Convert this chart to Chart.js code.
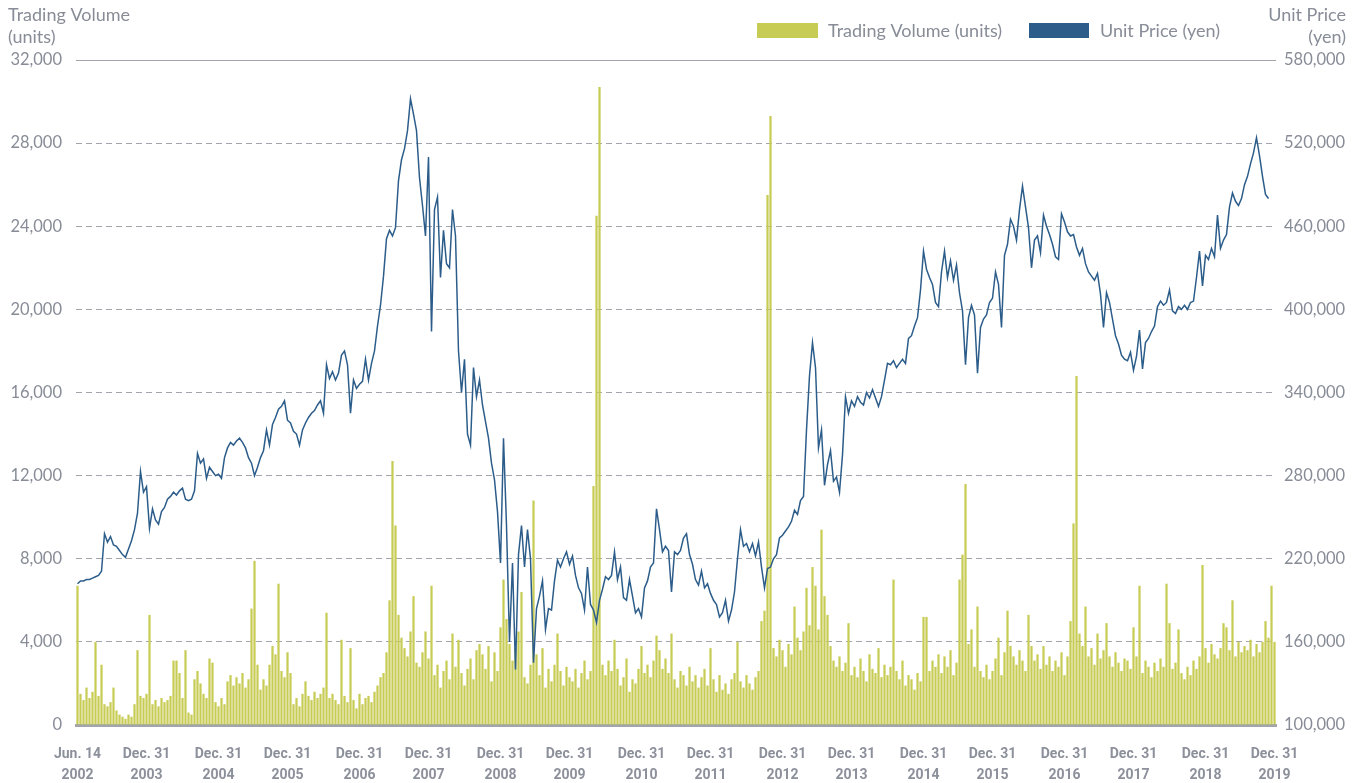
<!DOCTYPE html>
<html>
<head>
<meta charset="utf-8">
<script src="https://cdn.jsdelivr.net/npm/chart.js@4.4.1/dist/chart.umd.min.js"></script>
<style>
  html, body { margin: 0; padding: 0; background: #ffffff; }
  #wrap { width: 1362px; height: 783px; }
</style>
</head>
<body>
<div id="wrap"><canvas id="c" width="1362" height="783"></canvas></div>
<script>
// ---- Data ----
// Unit price in thousand yen, one value per sample (chronological, Jun 2002 -> 2019)
const unitPriceThousandYen = [
202,204,204,205,205,206,207,208,211,238,
232,236,230,229,226,223,221,227,233,241,
253,283,268,272,242,256,248,245,254,257,
263,265,268,266,269,271,263,262,263,269,
296,289,292,278,286,283,280,281,278,293,
300,304,302,305,307,304,300,293,289,280,
286,293,298,313,302,317,322,328,330,334,
320,318,312,310,302,313,318,322,325,327,
331,334,325,360,350,355,349,354,367,370,
360,325,349,343,346,348,364,349,361,370,
388,403,424,451,457,453,459,493,508,516,
529,552,541,529,495,475,453,510,384,472,
481,423,457,433,430,472,453,370,340,364,
310,302,358,337,349,331,319,307,289,277,
254,217,307,244,160,217,140,223,244,214,
241,220,145,184,193,204,169,184,183,204,
219,214,220,225,216,222,208,199,195,183,
214,187,183,174,190,198,207,205,208,225,
205,214,192,190,205,193,181,184,178,199,
204,214,217,256,241,225,229,226,196,225,
223,226,235,238,223,216,205,201,211,199,
202,195,190,187,178,181,190,175,183,196,
220,241,229,231,225,231,222,232,214,199,
213,214,220,223,235,237,240,243,247,255,
252,262,265,313,352,376,358,300,313,273,
288,298,276,279,268,295,337,325,334,330,
337,333,331,340,336,342,336,330,337,349,
361,360,363,358,361,364,361,379,381,388,
394,414,442,429,423,418,405,402,427,442,
423,435,421,432,412,399,360,394,403,396,
354,387,393,396,405,408,427,418,387,439,
447,465,460,450,472,489,474,459,430,450,
453,441,468,460,454,447,438,436,469,463,
456,453,454,445,439,444,433,427,424,421,
426,411,387,412,405,393,381,375,367,364,
363,369,356,366,385,357,376,379,384,388,
402,406,403,405,414,399,397,402,400,403,
400,405,406,423,442,417,439,436,444,438,
468,444,450,454,474,484,478,475,480,490,
496,505,513,524,511,496,483,480,null,null
];

// Trading volume in units, one value per sample
const tradingVolume = [
6700,1500,1200,1800,1300,1600,4000,1400,2900,1000,
900,1100,1800,700,500,400,300,500,400,1000,
3600,1400,1300,1500,5300,1000,1200,900,1300,1100,
1200,1400,3100,3100,2500,1300,3600,600,500,2200,
2600,2000,1500,1300,3200,3000,1100,900,1300,1000,
2100,2400,1900,2300,2000,2500,1800,2200,5600,7900,
2900,1700,2200,1900,2900,3800,3400,6800,2600,2300,
3500,2500,1000,1300,900,1500,2100,1400,1200,1600,
1300,1500,1800,5400,1300,1500,1200,1000,4100,1400,
1100,3700,1200,800,1500,1000,1300,1400,1100,1600,
1900,2300,2500,3500,6000,12700,9600,5300,4200,3700,
3300,4500,6200,3000,2800,3500,4500,3200,6700,2400,
2900,1800,2600,3100,2200,4400,2800,4100,2500,1900,
2700,3200,2200,3600,3900,3400,2700,3800,2100,3500,
2600,4700,7000,5100,3900,3100,3700,4500,6400,2300,
2000,2900,10800,3400,2400,3700,1800,2700,2100,2900,
4400,2600,1900,2800,2300,2100,2700,1800,2500,3100,
2200,2600,11500,24500,30700,2900,2400,3100,2600,4100,
2700,1900,2300,3200,1600,2200,2000,2700,3800,2500,
2900,2300,3100,4300,3600,2700,3200,2500,4400,2200,
1800,2600,2400,1900,2800,2100,2400,1800,2300,2700,
1900,3700,2200,1600,2400,1700,2000,1500,2200,2500,
4000,2100,1800,2400,2000,1700,2300,2600,5000,5500,
25500,29300,3700,3300,4100,3600,2800,3900,3400,5700,
4200,3600,4500,6600,4800,7600,6700,4600,9400,6200,
5300,3800,3100,2800,3300,2600,3000,4900,2400,2800,
2300,3200,2600,2100,3400,2700,2500,3700,2300,2900,
2400,2800,7000,2600,2200,3100,1900,2400,2200,1700,
2500,2100,5200,5200,2600,3100,2800,3400,2500,3300,
2800,3600,2400,3000,7000,8200,11600,3900,4600,2800,
5700,2600,2300,2900,2200,2600,3200,4200,2400,3500,
5500,3800,3300,2900,3600,3100,2600,5300,3800,3100,
3400,2700,3800,2900,3300,2600,3100,2800,3500,2400,
3300,5000,9700,16800,4400,3800,5700,3300,3700,2900,
4400,3200,3600,4900,3300,2800,3500,3000,2600,3200,
3100,2700,4700,3300,6700,2500,3100,2800,2300,3000,
2600,3200,2800,6800,4900,2700,3000,4600,2500,2200,
2800,2400,3100,2700,3300,7700,3700,3000,3900,3400,
3200,3700,4900,4700,3600,6000,3300,4000,3500,3800,
3600,4100,3300,3900,3500,4000,5000,4200,6700,4000
];

// Date tick labels and the sample index each one sits on
const tickLabels = [
  ['Jun. 14','2002'],['Dec. 31','2003'],['Dec. 31','2004'],['Dec. 31','2005'],
  ['Dec. 31','2006'],['Dec. 31','2007'],['Dec. 31','2008'],['Dec. 31','2009'],
  ['Dec. 31','2010'],['Dec. 31','2011'],['Dec. 31','2012'],['Dec. 31','2013'],
  ['Dec. 31','2014'],['Dec. 31','2015'],['Dec. 31','2016'],['Dec. 31','2017'],
  ['Dec. 31','2018'],['Dec. 31','2019']
];
const tickIndex = [0,23,47,70,94,117,141,164,188,211,235,258,282,305,329,352,376,399];

const seriesNames = ['Trading Volume (units)', 'Unit Price (yen)'];
const leftTitle = ['Trading Volume', '(units)'];
const rightTitle = ['Unit Price', '(yen)'];

// ---- Build ----
const categories = tradingVolume.map((_, i) => i);
const unitPriceYen = unitPriceThousandYen.map(v => v === null ? null : v * 1000);

const VOL_COLOR = '#c7cc55';
const PRICE_COLOR = '#2c5d8a';
const TEXT_COLOR = '#878c97';
const GRID_COLOR = '#a3a5ad';

const decor = {
  id: 'decor',
  afterDraw(chart) {
    const { ctx, chartArea: a, scales } = chart;
    ctx.save();
    // solid top frame line at the 32,000 level
    const yTop = Math.round(scales.yVol.getPixelForValue(32000)) + 0.5;
    ctx.setLineDash([]);
    ctx.strokeStyle = GRID_COLOR;
    ctx.lineWidth = 1;
    ctx.beginPath(); ctx.moveTo(a.left, yTop); ctx.lineTo(a.right, yTop); ctx.stroke();

    // axis titles
    ctx.fillStyle = TEXT_COLOR;
    ctx.font = '18px Lato, "Open Sans", sans-serif';
    ctx.textBaseline = 'middle';
    ctx.textAlign = 'left';
    ctx.fillText(leftTitle[0], 8, 15);
    ctx.fillText(leftTitle[1], 8, 37);
    ctx.textAlign = 'right';
    ctx.fillText(rightTitle[0], 1346, 15);
    ctx.fillText(rightTitle[1], 1346, 37);

    // legend
    ctx.font = '18px Lato, "Open Sans", sans-serif';
    ctx.textAlign = 'left';
    ctx.fillStyle = VOL_COLOR;
    ctx.fillRect(757, 23, 61, 15);
    ctx.fillStyle = TEXT_COLOR;
    ctx.fillText(seriesNames[0], 828, 31);
    ctx.fillStyle = PRICE_COLOR;
    ctx.fillRect(1029, 23, 60, 15);
    ctx.fillStyle = TEXT_COLOR;
    ctx.fillText(seriesNames[1], 1100, 31);
    ctx.restore();
  }
};

new Chart(document.getElementById('c'), {
  data: {
    labels: categories,
    datasets: [
      {
        type: 'line',
        label: seriesNames[1],
        data: unitPriceYen,
        yAxisID: 'yPrice',
        borderColor: PRICE_COLOR,
        borderWidth: 1.5,
        pointRadius: 0,
        tension: 0,
        order: 1
      },
      {
        type: 'bar',
        label: seriesNames[0],
        data: tradingVolume,
        yAxisID: 'yVol',
        backgroundColor: VOL_COLOR,
        barPercentage: 0.75,
        categoryPercentage: 1.0,
        order: 2
      }
    ]
  },
  options: {
    responsive: false,
    animation: false,
    layout: { padding: { top: 60, left: 0, right: 0, bottom: 0 } },
    plugins: { legend: { display: false }, tooltip: { enabled: false } },
    scales: {
      x: {
        type: 'category',
        offset: true,
        grid: { display: false },
        border: { display: true, color: GRID_COLOR, width: 3 },
        afterBuildTicks: (s) => { s.ticks = tickIndex.map(v => ({ value: v })); },
        afterFit: (s) => { s.height = 58; },
        ticks: {
          autoSkip: false, maxRotation: 0, minRotation: 0, padding: 11,
          color: '#8c909b',
          font: { family: '"Liberation Sans Narrow", "Roboto", sans-serif', size: 14, weight: 'bold', lineHeight: 1.5 },
          callback: (v) => { const j = tickIndex.indexOf(v); return j < 0 ? null : tickLabels[j]; }
        }
      },
      yVol: {
        type: 'linear', position: 'left', min: 0, max: 32000,
        afterFit: (s) => { s.width = 76; },
        grid: { color: GRID_COLOR, lineWidth: 1, drawTicks: false },
        border: { display: false, dash: [6, 4] },
        ticks: {
          stepSize: 4000, padding: 14, color: TEXT_COLOR,
          font: { family: 'Lato, "Open Sans", sans-serif', size: 16.5 },
          callback: (v) => Number(v).toLocaleString('en-US')
        }
      },
      yPrice: {
        type: 'linear', position: 'right', min: 100000, max: 580000,
        afterFit: (s) => { s.width = 86; },
        grid: { drawOnChartArea: false, drawTicks: false },
        border: { display: false },
        ticks: {
          stepSize: 60000, padding: 8, color: TEXT_COLOR,
          font: { family: 'Lato, "Open Sans", sans-serif', size: 16.5 },
          callback: (v) => Number(v).toLocaleString('en-US')
        }
      }
    }
  },
  plugins: [decor]
});
</script>
</body>
</html>
